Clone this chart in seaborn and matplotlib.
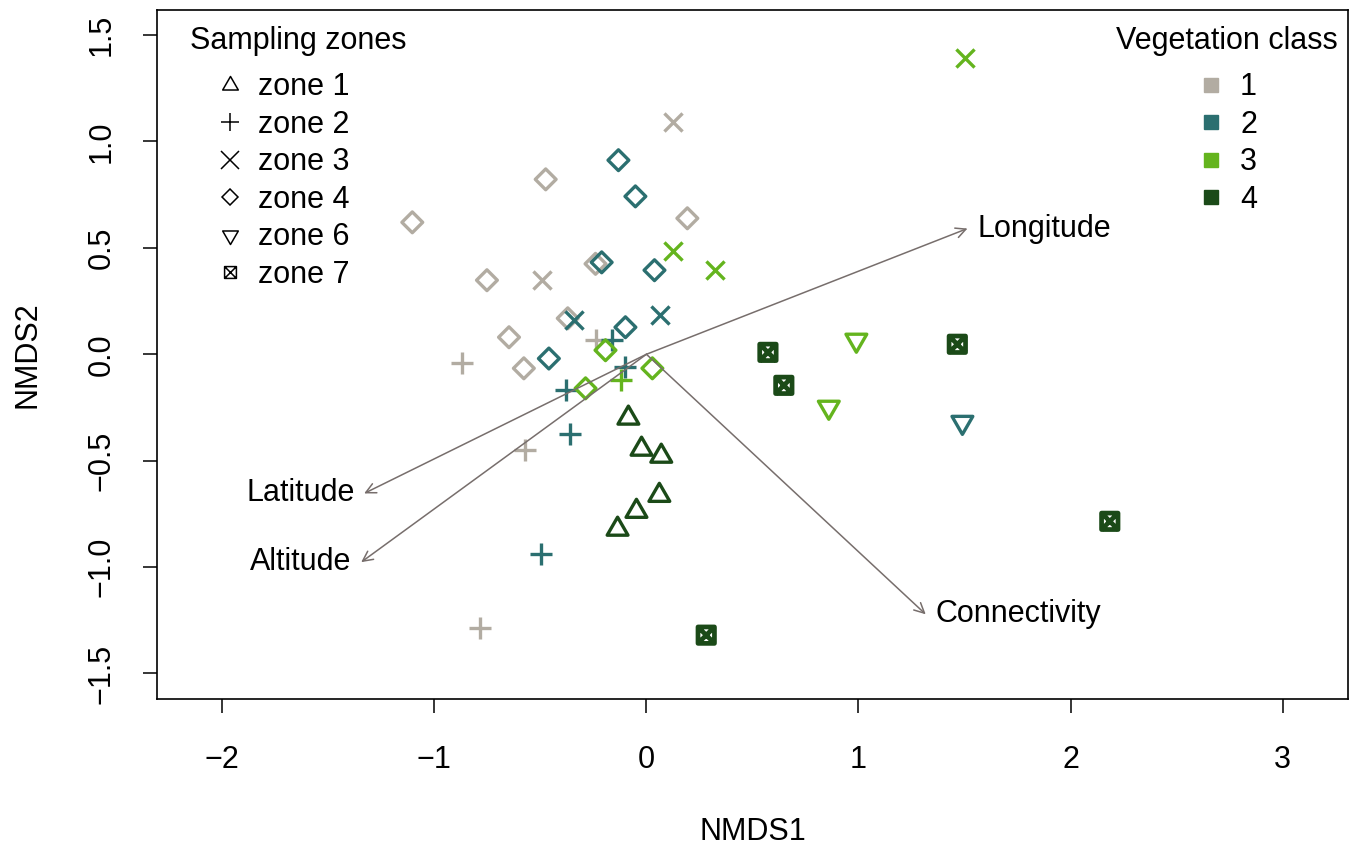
import numpy as np
import pandas as pd
import matplotlib
matplotlib.use('Agg')
import matplotlib.pyplot as plt
from matplotlib.path import Path
from matplotlib.lines import Line2D
import seaborn as sns

# NMDS site scores
nmds1 = [0.127, -0.475, -1.104, 0.193, -0.752, -0.493, -0.240, -0.371, -0.240, -0.648, -0.578, -0.869, -0.573, -0.785,
         -0.132, -0.052, -0.211, 0.038, -0.343, 0.066, -0.099, -0.160, -0.460, -0.099, -0.380, -0.362, -0.498, 1.490,
         1.500, 0.127, 0.324, -0.193, 0.028, -0.122, -0.287, 0.990, 0.860,
         -0.085, -0.023, 0.070, 0.061, -0.047, -0.136, 0.573, 0.648, 1.466, 2.185, 0.282]
nmds2 = [1.090, 0.822, 0.620, 0.639, 0.348, 0.348, 0.425, 0.169, 0.066, 0.080, -0.066, -0.042, -0.451, -1.288,
         0.912, 0.742, 0.432, 0.395, 0.160, 0.183, 0.127, 0.065, -0.020, -0.060, -0.170, -0.376, -0.940, -0.320,
         1.390, 0.484, 0.395, 0.019, -0.066, -0.122, -0.160, 0.066, -0.249,
         -0.300, -0.446, -0.479, -0.663, -0.738, -0.822, 0.009, -0.146, 0.047, -0.785, -1.320]
zone = [3, 4, 4, 4, 4, 3, 4, 4, 2, 4, 4, 2, 2, 2,
        4, 4, 4, 4, 3, 3, 4, 2, 4, 2, 2, 2, 2, 6,
        3, 3, 3, 4, 4, 2, 4, 6, 6,
        1, 1, 1, 1, 1, 1, 7, 7, 7, 7, 7]
veg = [1] * 14 + [2] * 14 + [3] * 9 + [4] * 11

# environmental fitted vectors
env_names = ['Longitude', 'Latitude', 'Altitude', 'Connectivity']
env_x = [1.514, -1.331, -1.345, 1.317]
env_y = [0.591, -0.654, -0.977, -1.222]

zone_list = [1, 2, 3, 4, 6, 7]
zone_labels = ['zone 1', 'zone 2', 'zone 3', 'zone 4', 'zone 6', 'zone 7']
veg_list = [1, 2, 3, 4]
veg_colors = ['#B2ACA2', '#2B6F70', '#64B41E', '#1B4A18']

df = pd.DataFrame({'NMDS1': nmds1, 'NMDS2': nmds2, 'zone': zone, 'veg': veg})

# R-like point symbols
tri_up = Path([(-1, -0.577), (1, -0.577), (0, 1.155), (-1, -0.577)], closed=True)
tri_down = Path([(-1, 0.577), (1, 0.577), (0, -1.155), (-1, 0.577)], closed=True)
box_x = Path([(-1, -1), (1, -1), (1, 1), (-1, 1), (-1, -1), (-1, -1), (1, 1), (-1, 1), (1, -1)],
             [Path.MOVETO, Path.LINETO, Path.LINETO, Path.LINETO, Path.CLOSEPOLY,
              Path.MOVETO, Path.LINETO, Path.MOVETO, Path.LINETO])
zone_marker = {1: tri_up, 2: '+', 3: 'x', 4: 'D', 6: tri_down, 7: box_x}
zone_size = {1: 300, 2: 240, 3: 170, 4: 112, 6: 300, 7: 140}
line_art = {2, 3}

sns.set_style('ticks')
plt.rcParams['font.family'] = ['Liberation Sans', 'DejaVu Sans']
plt.rcParams['font.size'] = 22
plt.rcParams['text.color'] = 'black'
plt.rcParams['axes.labelcolor'] = 'black'
plt.rcParams['xtick.color'] = 'black'
plt.rcParams['ytick.color'] = 'black'

fig = plt.figure(figsize=(13.52, 8.44), dpi=100)
ax = fig.add_axes([0.1161, 0.1718, 0.8809, 0.8169])

for i, row in df.iterrows():
    col = veg_colors[veg_list.index(row['veg'])]
    z = int(row['zone'])
    sub = df.loc[[i]]
    lw = 3.4 if z == 7 else 2.4
    if z in line_art:
        sns.scatterplot(data=sub, x='NMDS1', y='NMDS2', marker=zone_marker[z], s=zone_size[z],
                        color=col, linewidth=lw, ax=ax, legend=False, zorder=2)
    else:
        sns.scatterplot(data=sub, x='NMDS1', y='NMDS2', marker=zone_marker[z], s=zone_size[z],
                        color=col, facecolor='none', edgecolor=col, linewidth=lw,
                        ax=ax, legend=False, zorder=2)

# fitted vectors
arrow_col = '#776E6C'
for name, ex, ey in zip(env_names, env_x, env_y):
    ax.annotate('', xy=(ex, ey), xytext=(0, 0),
                arrowprops=dict(arrowstyle='->', color=arrow_col, lw=1.1,
                                shrinkA=0, shrinkB=0, mutation_scale=18), zorder=3)
    ha = 'left' if ex > 0 else 'right'
    dx = 7 if ex > 0 else -7
    ax.annotate(name, xy=(ex, ey), xytext=(dx, 0), textcoords='offset points',
                ha=ha, va='center', fontsize=22)

ax.set_xlim(-2.308, 3.308)
ax.set_ylim(-1.62, 1.62)
ax.set_xticks([-2, -1, 0, 1, 2, 3])
ax.set_yticks([-1.5, -1.0, -0.5, 0.0, 0.5, 1.0, 1.5])
ax.set_xticklabels(['\u22122', '\u22121', '0', '1', '2', '3'])
ax.set_yticklabels(['\u22121.5', '\u22121.0', '\u22120.5', '0.0', '0.5', '1.0', '1.5'],
                   rotation=90, va='center')
ax.tick_params(axis='both', direction='out', length=10, width=1.1, labelsize=22, color='black')
ax.tick_params(axis='x', pad=23)
ax.tick_params(axis='y', pad=19)
for sp in ax.spines.values():
    sp.set_visible(True)
    sp.set_linewidth(1.2)
    sp.set_color('black')
ax.set_xlabel('NMDS1', fontsize=22, labelpad=30)
ax.set_ylabel('NMDS2', fontsize=22, labelpad=32)

# legends
zone_handles = []
for z in zone_list:
    zone_handles.append(Line2D([], [], linestyle='none', marker=zone_marker[z], color='black',
                               markerfacecolor='none', markeredgecolor='black',
                               markersize=13 if z not in (4, 7) else 8.5, markeredgewidth=1.1))
leg1 = ax.legend(zone_handles, zone_labels, title='Sampling zones', loc='upper left',
                 bbox_to_anchor=(0.0133, 1.0), frameon=False, fontsize=22, title_fontsize=22,
                 handlelength=2.62, handletextpad=-0.39, labelspacing=0.245, borderpad=0.05,
                 alignment='left')
leg1._legend_box.sep = 11.5
ax.add_artist(leg1)

veg_handles = [Line2D([], [], linestyle='none', marker='s', markersize=10,
                      markerfacecolor=c, markeredgecolor=c) for c in veg_colors]
leg2 = ax.legend(veg_handles, [str(v) for v in veg_list], title='Vegetation class', loc='upper center',
                 bbox_to_anchor=(0.898, 1.0), frameon=False, fontsize=22, title_fontsize=22,
                 handlelength=1.0, handletextpad=0.45, labelspacing=0.245, borderpad=0.05)
leg2._legend_box.sep = 11.5

fig.savefig('out.png', dpi=100)
